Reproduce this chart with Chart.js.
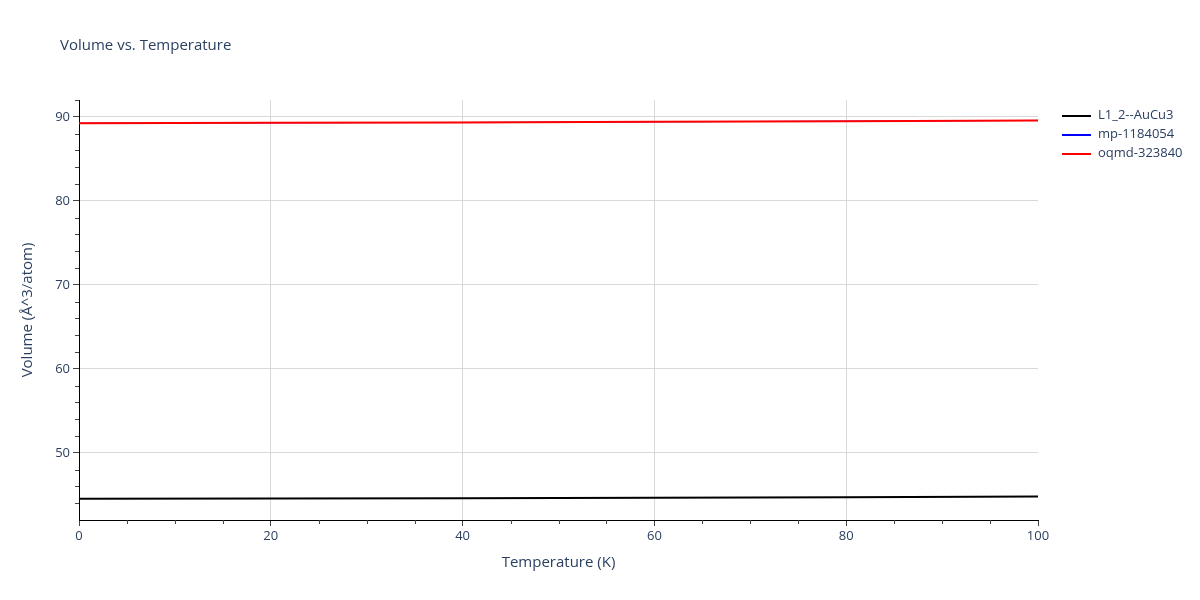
<!DOCTYPE html>
<html>
<head>
<meta charset="utf-8">
<script src="https://cdn.jsdelivr.net/npm/chart.js@4"></script>
<style>
    body { margin: 0; background: #fff; }
    #wrap { position: relative; width: 1200px; height: 600px; font-family: "Open Sans", sans-serif; color: #2a3f5f; }
    #title { position: absolute; left: 60px; top: 34px; font-size: 15px; }
    #legend { position: absolute; left: 1062px; top: 105px; font-size: 13px; }
    .item { height: 19px; line-height: 19px; white-space: nowrap; }
    .swatch { display: inline-block; width: 29px; height: 2px; vertical-align: middle; margin-right: 7px; }
</style>
</head>
<body>
<div id="wrap">
    <canvas id="chart" width="1200" height="600"></canvas>
    <div id="title">Volume vs. Temperature</div>
    <div id="legend"></div>
</div>
<script>
"use strict";

let temperature = [0, 20, 40, 60, 80, 100];
let seriesNames = ["L1_2--AuCu3", "mp-1184054", "oqmd-323840"];
let seriesColors = ["#000000", "#0000ff", "#ff0000"];
let volumeL12 = [44.53, 44.55, 44.59, 44.64, 44.71, 44.79];
let volumeMp = [89.24, 89.28, 89.33, 89.40, 89.48, 89.57];
let volumeOqmd = [89.24, 89.28, 89.33, 89.40, 89.48, 89.57];
let xTicks = [0, 20, 40, 60, 80, 100];
let yTicks = [50, 60, 70, 80, 90];

let allSeries = [volumeL12, volumeMp, volumeOqmd];

// html legend
let legend = document.getElementById("legend");
seriesNames.forEach(function (name, i) {
    let row = document.createElement("div");
    row.className = "item";
    row.innerHTML = '<span class="swatch" style="background:' + seriesColors[i] + '"></span>' + name;
    legend.appendChild(row);
});

// minor ticks, plotly style
let minorTicks = {
    id: "minorTicks",
    afterDraw: function (chart) {
        let ctx = chart.ctx;
        let area = chart.chartArea;
        let xs = chart.scales.x;
        let ys = chart.scales.y;
        ctx.save();
        ctx.strokeStyle = "#444";
        ctx.lineWidth = 1;
        ctx.beginPath();
        for (let v = 5; v < 100; v += 5) {
            if (v % 20 === 0) continue;
            let px = Math.round(xs.getPixelForValue(v)) + 0.5;
            ctx.moveTo(px, area.bottom);
            ctx.lineTo(px, area.bottom + 4);
        }
        for (let v = 44; v <= 92; v += 2) {
            if (v % 10 === 0) continue;
            let py = Math.round(ys.getPixelForValue(v)) + 0.5;
            ctx.moveTo(area.left, py);
            ctx.lineTo(area.left - 4, py);
        }
        ctx.stroke();
        ctx.restore();
    }
};

let datasets = allSeries.map(function (values, i) {
    return {
        label: seriesNames[i],
        data: temperature.map(function (t, j) { return {x: t, y: values[j]}; }),
        borderColor: seriesColors[i],
        backgroundColor: seriesColors[i],
        // mp line sits under the oqmd one, keep it thinner so it does not bleed
        borderWidth: i === 1 ? 1 : 2,
        pointRadius: 0,
        tension: 0,
        order: 2 - i
    };
});

let tickFont = {family: "'Open Sans', sans-serif", size: 13};
let titleFont = {family: "'Open Sans', sans-serif", size: 15};

new Chart(document.getElementById("chart").getContext("2d"), {
    type: "line",
    data: {datasets: datasets},
    options: {
        responsive: false,
        animation: false,
        layout: {padding: {left: 0, top: 100, right: 162, bottom: 0}},
        plugins: {legend: {display: false}, tooltip: {enabled: false}},
        scales: {
            x: {
                type: "linear",
                min: 0,
                max: 100,
                afterFit: function (scale) { scale.height = 80; },
                afterBuildTicks: function (scale) {
                    scale.ticks = xTicks.map(function (v) { return {value: v}; });
                },
                ticks: {color: "#2a3f5f", font: tickFont, padding: 2, maxRotation: 0},
                grid: {
                    color: function (c) { return (c.tick && c.tick.value > 0 && c.tick.value < 100) ? "#d9d9d9" : "rgba(0,0,0,0)"; },
                    tickColor: "#444",
                    tickLength: 6
                },
                border: {display: true, color: "#000", width: 1},
                title: {display: true, text: "Temperature (K)", color: "#2a3f5f", font: titleFont, padding: {top: 0, bottom: 28}}
            },
            y: {
                min: 42,
                max: 92,
                afterFit: function (scale) { scale.width = 79; },
                afterBuildTicks: function (scale) {
                    scale.ticks = yTicks.map(function (v) { return {value: v}; });
                },
                ticks: {color: "#2a3f5f", font: tickFont, padding: 3},
                grid: {color: "#d9d9d9", tickColor: "#444", tickLength: 6},
                border: {display: true, color: "#000", width: 1},
                title: {display: true, text: "Volume (Å^3/atom)", color: "#2a3f5f", font: titleFont, padding: {top: 19}}
            }
        }
    },
    plugins: [minorTicks]
});
</script>
</body>
</html>
